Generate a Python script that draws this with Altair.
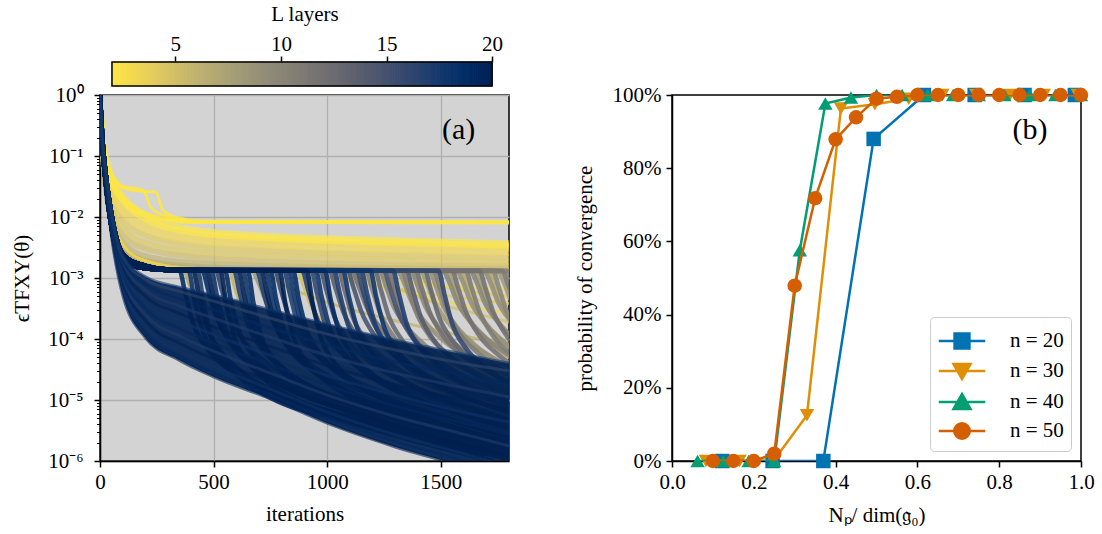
import altair as alt
import numpy as np
import pandas as pd

FONT = "Liberation Serif"

# ---------------- panel (a): log10(eps) ----------------
# converging runs (never stuck)
conv_it = [0, 10, 25, 50, 100, 200, 350, 500, 750, 1000, 1300, 1600, 1800]
conv_L = [20, 19, 18, 20, 17, 19, 18, 20, 17, 19, 16, 18]
conv_log = [
    [0, -0.88, -1.50, -2.30, -3.28, -3.98, -4.35, -4.62, -4.98, -5.38, -5.77, -6.10, -6.40],
    [0, -0.85, -1.45, -2.25, -3.20, -3.90, -4.28, -4.55, -4.92, -5.30, -5.68, -6.00, -6.25],
    [0, -0.85, -1.42, -2.20, -3.12, -3.80, -4.18, -4.45, -4.82, -5.20, -5.57, -5.88, -6.10],
    [0, -0.82, -1.40, -2.15, -3.05, -3.70, -4.07, -4.33, -4.70, -5.07, -5.43, -5.73, -5.92],
    [0, -0.80, -1.38, -2.10, -2.98, -3.60, -3.95, -4.20, -4.56, -4.92, -5.27, -5.56, -5.75],
    [0, -0.80, -1.35, -2.05, -2.92, -3.50, -3.83, -4.07, -4.42, -4.76, -5.10, -5.38, -5.56],
    [0, -0.78, -1.32, -2.00, -2.86, -3.40, -3.70, -3.93, -4.27, -4.60, -4.92, -5.20, -5.36],
    [0, -0.78, -1.30, -1.98, -2.80, -3.30, -3.58, -3.80, -4.12, -4.44, -4.75, -5.00, -5.15],
    [0, -0.75, -1.28, -1.95, -2.75, -3.20, -3.46, -3.66, -3.97, -4.27, -4.56, -4.80, -4.95],
    [0, -0.75, -1.25, -1.92, -2.70, -3.10, -3.34, -3.52, -3.82, -4.10, -4.38, -4.60, -4.75],
    [0, -0.72, -1.22, -1.90, -2.65, -3.02, -3.22, -3.38, -3.66, -3.92, -4.18, -4.40, -4.52],
    [0, -0.72, -1.20, -1.88, -2.62, -2.98, -3.15, -3.28, -3.52, -3.76, -4.02, -4.25, -4.40],
]

# upper yellow band (small L)
band_it = [0, 10, 25, 50, 100, 200, 400, 700, 1100, 1500, 1800]
band_L = [2, 2, 3, 3, 4, 4, 5, 6, 7, 9]
band_log = [
    [0, -0.62, -1.00, -1.34, -1.65, -1.97, -2.20, -2.30, -2.36, -2.40, -2.43],
    [0, -0.66, -1.06, -1.40, -1.72, -2.03, -2.25, -2.34, -2.40, -2.44, -2.47],
    [0, -0.70, -1.12, -1.48, -1.80, -2.10, -2.30, -2.38, -2.44, -2.48, -2.51],
    [0, -0.72, -1.20, -1.58, -1.92, -2.20, -2.38, -2.46, -2.52, -2.56, -2.58],
    [0, -0.75, -1.25, -1.68, -2.05, -2.30, -2.46, -2.54, -2.60, -2.64, -2.66],
    [0, -0.78, -1.30, -1.78, -2.18, -2.42, -2.56, -2.63, -2.68, -2.72, -2.74],
    [0, -0.80, -1.35, -1.88, -2.30, -2.52, -2.65, -2.72, -2.77, -2.80, -2.81],
    [0, -0.82, -1.40, -1.98, -2.42, -2.64, -2.75, -2.80, -2.83, -2.85, -2.86],
    [0, -0.84, -1.45, -2.05, -2.50, -2.72, -2.81, -2.85, -2.87, -2.88, -2.88],
    [0, -0.84, -1.47, -2.08, -2.55, -2.76, -2.84, -2.87, -2.88, -2.89, -2.89],
]

# runs stuck at ~8e-3 (L = 2)
flat_L = [2, 2, 2, 2]
flat_it = [
    [0, 10, 25, 50, 70, 100, 190, 225, 300, 400, 1800],
    [0, 10, 25, 50, 100, 160, 245, 277, 350, 450, 1800],
    [0, 10, 25, 50, 100, 200, 300, 400, 1800],
    [0, 10, 25, 50, 100, 200, 300, 400, 1800],
]
flat_log = [
    [0, -0.55, -0.95, -1.28, -1.39, -1.50, -1.56, -1.85, -2.00, -2.07, -2.08],
    [0, -0.55, -0.95, -1.30, -1.52, -1.57, -1.59, -1.89, -2.02, -2.07, -2.08],
    [0, -0.60, -1.05, -1.40, -1.68, -1.93, -2.04, -2.08, -2.09],
    [0, -0.62, -1.08, -1.45, -1.75, -1.98, -2.06, -2.09, -2.10],
]

# slowly descending yellow runs below the 1e-3 plateau
slow_L = [4, 3, 5, 4, 6, 3]
slow_it = [
    [0, 10, 25, 50, 100, 200, 400, 900, 1000, 1200, 1500, 1800],
    [0, 10, 25, 50, 100, 200, 400, 1050, 1150, 1350, 1600, 1800],
    [0, 10, 25, 50, 100, 200, 400, 1200, 1280, 1450, 1650, 1800],
    [0, 10, 25, 50, 100, 200, 400, 1350, 1420, 1600, 1800],
    [0, 10, 25, 50, 100, 200, 400, 700, 800, 1000, 1300, 1800],
    [0, 10, 25, 50, 100, 200, 400, 1100, 1180, 1400, 1800],
]
slow_log = [
    [0, -0.80, -1.40, -1.95, -2.45, -2.72, -2.84, -2.88, -2.98, -3.12, -3.28, -3.42],
    [0, -0.80, -1.40, -1.95, -2.45, -2.72, -2.84, -2.88, -3.05, -3.25, -3.45, -3.58],
    [0, -0.80, -1.40, -1.95, -2.45, -2.72, -2.84, -2.88, -3.10, -3.38, -3.58, -3.72],
    [0, -0.80, -1.40, -1.95, -2.45, -2.72, -2.84, -2.88, -3.05, -3.20, -3.30],
    [0, -0.80, -1.40, -1.95, -2.45, -2.72, -2.84, -2.88, -3.10, -3.40, -3.70, -4.10],
    [0, -0.80, -1.40, -1.95, -2.45, -2.72, -2.84, -2.88, -3.00, -3.10, -3.18],
]

# runs that sit on the ~1.3e-3 plateau and then drop
plat_it = [0, 10, 25, 50, 80, 120, 200, 300]
plat_log_1 = [0, -0.78, -1.42, -2.15, -2.62, -2.78, -2.84, -2.87]
plat_log_2 = [0, -0.70, -1.30, -1.95, -2.45, -2.68, -2.80, -2.86]
peel_dt = [0, 25, 60, 120, 200, 350, 600, 900, 1300]
peel_shapes = [
    [-2.88, -3.25, -3.75, -4.15, -4.45, -4.80, -5.15, -5.50, -5.90],
    [-2.88, -3.35, -3.85, -4.25, -4.55, -4.90, -5.22, -5.55, -5.95],
    [-2.88, -3.18, -3.62, -4.02, -4.32, -4.68, -5.02, -5.38, -5.75],
    [-2.88, -3.40, -3.95, -4.38, -4.68, -5.02, -5.30, -5.62, -6.00],
    [-2.88, -3.10, -3.45, -3.80, -4.10, -4.45, -4.80, -5.12, -5.48],
    [-2.88, -3.30, -3.80, -4.20, -4.50, -4.85, -5.18, -5.52, -5.90],
    [-2.88, -3.15, -3.55, -3.95, -4.25, -4.60, -4.95, -5.30, -5.65],
    [-2.88, -3.05, -3.38, -3.72, -4.02, -4.38, -4.72, -5.05, -5.40],
]
peel_start = [350, 370, 390, 410, 430, 450, 470, 490, 510, 530, 550, 570, 590, 610,
              630, 650, 670, 690, 710, 730, 750, 770, 790, 810, 830, 850, 870, 890,
              910, 930, 950, 970, 990, 1010, 1030, 1050, 1070, 1090, 1110, 1130, 1150,
              1170, 1190, 1210, 1230, 1250, 1270, 1290, 1310, 1330, 1350, 1370, 1390,
              1410, 1430, 1450, 1470, 1490, 1510, 1530, 1550, 1570, 1590, 1610, 1630,
              1650, 1670, 1690, 1710, 1730, 1750, 1770, 1790]
peel_L = [19, 7, 18, 20, 17, 19, 20, 18, 16, 20, 19, 6, 17, 20,
          18, 19, 8, 17, 20, 18, 19, 16, 20, 17, 18, 19, 5, 17,
          20, 16, 18, 15, 19, 14, 17, 13, 18, 15, 12, 16, 17,
          11, 18, 13, 10, 15, 12, 17, 9, 11, 14, 10, 12,
          8, 13, 9, 11, 16, 10, 8, 12, 9, 7, 11, 10,
          8, 12, 9, 7, 10, 8, 11, 9]
peel_shape = [0, 4, 1, 5, 3, 2, 0, 5, 2, 3, 1, 6, 0, 5,
              1, 3, 7, 2, 0, 5, 1, 2, 3, 0, 5, 1, 4, 2,
              3, 0, 5, 2, 1, 6, 0, 2, 5, 6, 4, 2, 0,
              6, 5, 2, 4, 6, 2, 0, 7, 6, 2, 4, 6,
              7, 2, 4, 6, 0, 7, 4, 6, 7, 4, 6, 7,
              4, 6, 7, 4, 6, 7, 4, 6]
peel_prefix = [1, 2] * 36 + [1]
stuck_L = [8, 10]
stuck_end = [-2.88, -2.89]

# ---------------- panel (b) ----------------
n_labels = ["n = 20", "n = 30", "n = 40", "n = 50"]
n_colors = ["#0173b2", "#de8f05", "#029e73", "#d55e00"]
n_shapes = ["square", "triangle-down", "triangle-up", "circle"]
n20_x = [0.123, 0.246, 0.370, 0.493, 0.616, 0.740, 0.862, 0.985]
n20_p = [0, 0, 0, 88, 100, 100, 100, 100]
n30_x = [0.083, 0.165, 0.248, 0.330, 0.413, 0.496, 0.579, 0.661, 0.744, 0.826, 0.909, 0.992]
n30_p = [0, 0, 0, 12.5, 96.3, 97.5, 99, 100, 100, 100, 100, 100]
n40_x = [0.0625, 0.125, 0.1875, 0.25, 0.3125, 0.375, 0.4375, 0.5, 0.5625, 0.625, 0.6875,
         0.75, 0.8125, 0.875, 0.9375, 1.0]
n40_p = [0, 0, 0, 0, 57.6, 97.7, 99.3, 100, 100, 100, 100, 100, 100, 100, 100, 100]
n50_x = [0.10, 0.15, 0.20, 0.25, 0.30, 0.35, 0.40, 0.45, 0.50, 0.55, 0.60, 0.65, 0.70,
         0.75, 0.80, 0.85, 0.90, 0.95, 1.00]
n50_p = [0, 0, 0, 2, 47.9, 71.8, 87.9, 93.9, 99, 99.5, 100, 100, 100, 100, 100, 100,
         100, 100, 100]

# ---------------- build tables ----------------
def curves(its_list, logs_list, Ls, tag):
    rows = []
    for i, (its, logs, L) in enumerate(zip(its_list, logs_list, Ls)):
        for t, v in zip(its, logs):
            rows.append({"it": t, "eps": 10.0 ** v, "L": L, "cid": f"{tag}{i:03d}"})
    return pd.DataFrame(rows)

band_df = curves([band_it] * len(band_L), band_log, band_L, "b")
band_df = band_df.sort_values(["L", "cid"], ascending=[False, True], kind="stable")
flat_df = curves(flat_it, flat_log, flat_L, "f")
slow_df = curves(slow_it, slow_log, slow_L, "s")

peel_its, peel_logs = [], []
for tp, pre, si in zip(peel_start, peel_prefix, peel_shape):
    pl = plat_log_1 if pre == 1 else plat_log_2
    peel_its.append(plat_it + [tp + d for d in peel_dt])
    peel_logs.append(pl + peel_shapes[si])
for k, (L, e) in enumerate(zip(stuck_L, stuck_end)):
    pl = plat_log_1 if k == 0 else plat_log_2
    peel_its.append(plat_it + [1800])
    peel_logs.append(pl + [e])
peel_df = curves(peel_its, peel_logs, peel_L + stuck_L, "p")
peel_df = peel_df.sort_values(["L", "cid"], kind="stable").reset_index(drop=True)

conv_df = curves([conv_it] * len(conv_L), conv_log, conv_L, "c")
area_df = pd.DataFrame({"it": conv_it,
                        "lo": [10.0 ** v for v in conv_log[0]],
                        "hi": [10.0 ** v for v in conv_log[11]]})

cscale = alt.Scale(scheme="cividis", reverse=True, domain=[2, 20])
xs_a = alt.Scale(domain=[0, 1800], nice=False, zero=False)
ys_a = alt.Scale(type="log", domain=[1e-6, 1], nice=False)

major = [1e-6, 1e-5, 1e-4, 1e-3, 1e-2, 1e-1, 1]
minor = [k * 10.0 ** e for e in range(-6, 0) for k in range(2, 10)]
lab_expr = ("['10⁻⁶','10⁻⁵','10⁻⁴','10⁻³','10⁻²','10⁻¹','10⁰']"
            "[round(log(datum.value)/LN10)+6]")

X_a = alt.X("it:Q", scale=xs_a, title="iterations",
            axis=alt.Axis(values=[0, 500, 1000, 1500], grid=True, gridColor="#b0b0b0",
                          gridWidth=1.3, labelPadding=4, titlePadding=11, format="d",
                          labelFlush=False))
Y_axis_a = alt.Axis(values=major, labelExpr=lab_expr, grid=True, gridColor="#b0b0b0",
                    gridWidth=1.3, labelPadding=11, titlePadding=15, orient="left",
                    labelFlush=False)
Y_main = alt.Y("eps:Q", scale=ys_a, title="ϵTFXY(θ)", axis=Y_axis_a)
Y_noax = alt.Y("eps:Q", scale=ys_a, axis=None)


def lines(df, width, opac, y):
    return alt.Chart(df).mark_line(clip=True, strokeWidth=width, opacity=opac,
                                   interpolate="monotone").encode(
        x=X_a, y=y,
        color=alt.Color("L:Q", scale=cscale, legend=None),
        detail="cid:N",
    )

band_layer = lines(band_df, 6, 0.65, Y_main)
slow_layer = lines(slow_df, 3, 0.75, Y_noax)
flat_layer = lines(flat_df, 3, 0.9, Y_noax)
peel_layer = lines(peel_df, 4.5, 0.88, Y_noax)
area_layer = alt.Chart(area_df).mark_area(clip=True, color="#00214f", opacity=0.92,
                                          interpolate="monotone").encode(
    x=X_a, y=alt.Y("lo:Q", scale=ys_a, axis=None), y2="hi:Q")
conv_layer = lines(conv_df, 3, 0.6, Y_noax)
minor_layer = alt.Chart(conv_df).mark_point(opacity=0).encode(
    x=X_a,
    y=alt.Y("eps:Q", scale=ys_a, title="",
            axis=alt.Axis(values=minor, labels=False, grid=False, domain=False,
                          tickSize=3.5, tickWidth=1, orient="left", title="")))
a_df = pd.DataFrame({"it": [1578], "eps": [0.27], "t": ["(a)"]})
a_text = alt.Chart(a_df).mark_text(font=FONT, fontSize=30, color="black").encode(
    x=X_a, y=Y_noax, text="t:N")

left = alt.layer(band_layer, slow_layer, flat_layer, peel_layer, area_layer,
                 conv_layer, a_text, minor_layer).resolve_axis(y="independent").properties(
    width=409, height=366,
    view=alt.ViewBackground(fill="#d3d3d3", stroke="black", strokeWidth=1.5))

# ---------------- colorbar ----------------
cb_df = pd.DataFrame({"L": np.round(np.arange(2, 20, 0.1), 2)})
cb_df["L2"] = cb_df["L"] + 0.1
cb_x = alt.Scale(domain=[1.433, 20.80], nice=False, zero=False)
cb_X = alt.X("L:Q", scale=cb_x, title="L layers",
             axis=alt.Axis(orient="top", values=[5, 10, 15, 20], domain=False, grid=False,
                           labelPadding=2, titlePadding=9, tickSize=6, labelFlush=False))
cb_rects = alt.Chart(cb_df).mark_rect().encode(
    x=cb_X, x2="L2:Q",
    color=alt.Color("L:Q", scale=cscale, legend=None),
    stroke=alt.Stroke("L:Q", scale=cscale, legend=None),
)
cb_border_df = pd.DataFrame({"L": [2.0], "L2": [20.0]})
cb_border = alt.Chart(cb_border_df).mark_rect(filled=False, stroke="black",
                                               strokeWidth=1.5).encode(x=cb_X, x2="L2:Q")
cbar = alt.layer(cb_rects, cb_border).properties(
    width=409, height=24,
    view=alt.ViewBackground(stroke="transparent"))

spacer = alt.Chart(pd.DataFrame({"v": [0]})).mark_point(opacity=0).encode(
    x=alt.value(0), y=alt.value(0)).properties(
    width=409, height=24, view=alt.ViewBackground(stroke="transparent"))

# ---------------- panel (b) chart ----------------
rows = []
for lab, xs, ps in zip(n_labels, [n20_x, n30_x, n40_x, n50_x],
                       [n20_p, n30_p, n40_p, n50_p]):
    for x, p in zip(xs, ps):
        rows.append({"x": x, "p": p, "n": lab})
rdf = pd.DataFrame(rows)

X_b = alt.X("x:Q", scale=alt.Scale(domain=[0, 1], nice=False), title="Nₚ/ dim(𝔤₀)",
            axis=alt.Axis(values=[0, 0.2, 0.4, 0.6, 0.8, 1.0], format=".1f", grid=False,
                          labelPadding=4, titlePadding=12, labelFlush=False))
Y_b = alt.Y("p:Q", scale=alt.Scale(domain=[0, 100], nice=False),
            title="probability of convergence",
            axis=alt.Axis(values=[0, 20, 40, 60, 80, 100], labelExpr="datum.value + '%'",
                          grid=False, labelPadding=5, titlePadding=17, labelFlush=False))
col_b = alt.Color("n:N", scale=alt.Scale(domain=n_labels, range=n_colors), legend=None)

b_layers = []
for lab in n_labels:
    sub = rdf[rdf["n"] == lab]
    b_layers.append(alt.Chart(sub).mark_line(strokeWidth=2.5, clip=True).encode(
        x=X_b, y=Y_b, color=col_b))
    b_layers.append(alt.Chart(sub).mark_point(filled=True, size=210, opacity=1,
                                              clip=False).encode(
        x=X_b, y=Y_b, color=col_b,
        shape=alt.Shape("n:N", scale=alt.Scale(domain=n_labels, range=n_shapes),
                        legend=None)))

leg_paths = [
    "M-1.5,0L1.5,0M-0.48,-0.48L0.48,-0.48L0.48,0.48L-0.48,0.48Z",
    "M-1.5,0L1.5,0M-0.55,-0.45L0.55,-0.45L0,0.52Z",
    "M-1.5,0L1.5,0M-0.55,0.45L0.55,0.45L0,-0.52Z",
    "M-1.5,0L1.5,0M-0.5,0A0.5,0.5,0,1,0,0.5,0A0.5,0.5,0,1,0,-0.5,0Z",
]
leg_cfg = alt.Legend(orient="bottom-right", offset=10, padding=7,
                     fillColor="white", strokeColor="#cccccc",
                     cornerRadius=4, symbolSize=961, symbolOffset=8,
                     symbolStrokeWidth=2.5, labelFontSize=21,
                     labelFont=FONT, labelOffset=31, rowPadding=0,
                     symbolOpacity=1)
leg_scale_c = alt.Scale(domain=n_labels, range=n_colors)
legend_layer = alt.Chart(rdf).transform_filter("datum.p > 1000").mark_point(
    filled=True, strokeWidth=2.5).encode(
    x=X_b, y=Y_b,
    fill=alt.Fill("n:N", scale=leg_scale_c, title=None, legend=leg_cfg),
    stroke=alt.Stroke("n:N", scale=leg_scale_c, title=None, legend=leg_cfg),
    shape=alt.Shape("n:N", scale=alt.Scale(domain=n_labels, range=leg_paths), title=None,
                    legend=leg_cfg))
b_df = pd.DataFrame({"x": [0.875], "p": [90.4], "t": ["(b)"]})
b_text = alt.Chart(b_df).mark_text(font=FONT, fontSize=30, color="black").encode(
    x=X_b, y=Y_b, text="t:N")

right = alt.layer(*b_layers, legend_layer, b_text).resolve_scale(
    shape="independent", fill="independent", stroke="independent").properties(
    width=409, height=366,
    view=alt.ViewBackground(fill="white", stroke="black", strokeWidth=1.5))

chart = alt.concat(cbar, spacer, left, right, columns=2,
                   spacing={"row": 9, "column": 163}, bounds="flush").properties(
    padding={"left": 10, "top": 2, "right": 0, "bottom": 0},
    background="white",
).configure_axis(
    labelFont=FONT, titleFont=FONT, labelFontSize=21, titleFontSize=21,
    labelColor="black", titleColor="black", titleFontWeight="normal",
    tickColor="black", domainColor="black", tickSize=6, tickWidth=1.5,
    domainWidth=1.5,
).configure_view(stroke="black", strokeWidth=1.5)

chart.save("out.html", embed_options={"renderer": "svg", "actions": False})
